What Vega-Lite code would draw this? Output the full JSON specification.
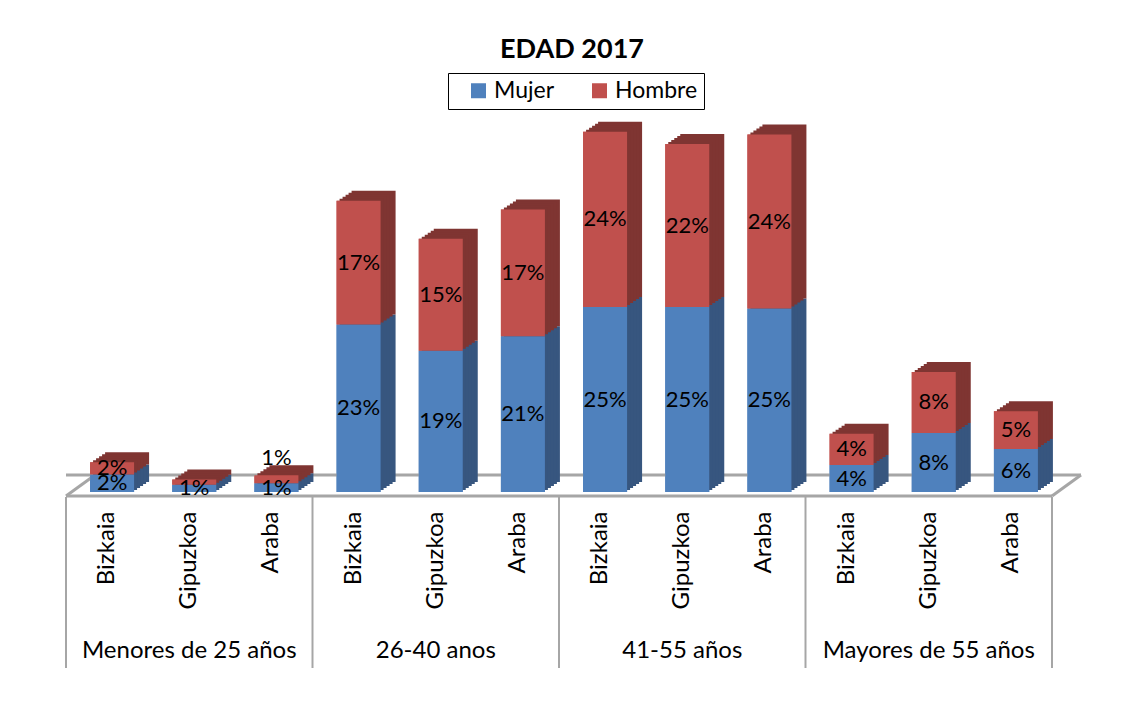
{
  "$schema": "https://vega.github.io/schema/vega-lite/v6.json",
  "width": 986,
  "height": 364,
  "autosize": {"type": "none"},
  "padding": {"left": 66, "top": 128, "right": 78, "bottom": 226},
  "background": "white",
  "config": {"font": "Lato", "view": {"stroke": null}},
  "title": {"text": "EDAD 2017", "fontSize": 27, "fontWeight": "bold", "font": "Lato", "color": "black", "anchor": "middle", "dx": 13, "offset": 9},
  "datasets": {
    "d": [
      {"grupo": "Menores de 25 años", "provincia": "Bizkaia", "categoria": "Menores de 25 años / Bizkaia", "sexo": "Mujer", "valor": 2.4, "etiqueta": "2%"},
      {"grupo": "Menores de 25 años", "provincia": "Bizkaia", "categoria": "Menores de 25 años / Bizkaia", "sexo": "Hombre", "valor": 1.7, "etiqueta": "2%"},
      {"grupo": "Menores de 25 años", "provincia": "Gipuzkoa", "categoria": "Menores de 25 años / Gipuzkoa", "sexo": "Mujer", "valor": 1.0, "etiqueta": "1%"},
      {"grupo": "Menores de 25 años", "provincia": "Gipuzkoa", "categoria": "Menores de 25 años / Gipuzkoa", "sexo": "Hombre", "valor": 0.7, "etiqueta": ""},
      {"grupo": "Menores de 25 años", "provincia": "Araba", "categoria": "Menores de 25 años / Araba", "sexo": "Mujer", "valor": 1.2, "etiqueta": "1%"},
      {"grupo": "Menores de 25 años", "provincia": "Araba", "categoria": "Menores de 25 años / Araba", "sexo": "Hombre", "valor": 1.1, "etiqueta": "1%"},
      {"grupo": "26-40 anos", "provincia": "Bizkaia", "categoria": "26-40 anos / Bizkaia", "sexo": "Mujer", "valor": 23.0, "etiqueta": "23%"},
      {"grupo": "26-40 anos", "provincia": "Bizkaia", "categoria": "26-40 anos / Bizkaia", "sexo": "Hombre", "valor": 17.0, "etiqueta": "17%"},
      {"grupo": "26-40 anos", "provincia": "Gipuzkoa", "categoria": "26-40 anos / Gipuzkoa", "sexo": "Mujer", "valor": 19.4, "etiqueta": "19%"},
      {"grupo": "26-40 anos", "provincia": "Gipuzkoa", "categoria": "26-40 anos / Gipuzkoa", "sexo": "Hombre", "valor": 15.4, "etiqueta": "15%"},
      {"grupo": "26-40 anos", "provincia": "Araba", "categoria": "26-40 anos / Araba", "sexo": "Mujer", "valor": 21.4, "etiqueta": "21%"},
      {"grupo": "26-40 anos", "provincia": "Araba", "categoria": "26-40 anos / Araba", "sexo": "Hombre", "valor": 17.4, "etiqueta": "17%"},
      {"grupo": "41-55 años", "provincia": "Bizkaia", "categoria": "41-55 años / Bizkaia", "sexo": "Mujer", "valor": 25.4, "etiqueta": "25%"},
      {"grupo": "41-55 años", "provincia": "Bizkaia", "categoria": "41-55 años / Bizkaia", "sexo": "Hombre", "valor": 24.1, "etiqueta": "24%"},
      {"grupo": "41-55 años", "provincia": "Gipuzkoa", "categoria": "41-55 años / Gipuzkoa", "sexo": "Mujer", "valor": 25.4, "etiqueta": "25%"},
      {"grupo": "41-55 años", "provincia": "Gipuzkoa", "categoria": "41-55 años / Gipuzkoa", "sexo": "Hombre", "valor": 22.4, "etiqueta": "22%"},
      {"grupo": "41-55 años", "provincia": "Araba", "categoria": "41-55 años / Araba", "sexo": "Mujer", "valor": 25.2, "etiqueta": "25%"},
      {"grupo": "41-55 años", "provincia": "Araba", "categoria": "41-55 años / Araba", "sexo": "Hombre", "valor": 23.9, "etiqueta": "24%"},
      {"grupo": "Mayores de 55 años", "provincia": "Bizkaia", "categoria": "Mayores de 55 años / Bizkaia", "sexo": "Mujer", "valor": 3.7, "etiqueta": "4%"},
      {"grupo": "Mayores de 55 años", "provincia": "Bizkaia", "categoria": "Mayores de 55 años / Bizkaia", "sexo": "Hombre", "valor": 4.3, "etiqueta": "4%"},
      {"grupo": "Mayores de 55 años", "provincia": "Gipuzkoa", "categoria": "Mayores de 55 años / Gipuzkoa", "sexo": "Mujer", "valor": 8.1, "etiqueta": "8%"},
      {"grupo": "Mayores de 55 años", "provincia": "Gipuzkoa", "categoria": "Mayores de 55 años / Gipuzkoa", "sexo": "Hombre", "valor": 8.4, "etiqueta": "8%"},
      {"grupo": "Mayores de 55 años", "provincia": "Araba", "categoria": "Mayores de 55 años / Araba", "sexo": "Mujer", "valor": 5.9, "etiqueta": "6%"},
      {"grupo": "Mayores de 55 años", "provincia": "Araba", "categoria": "Mayores de 55 años / Araba", "sexo": "Hombre", "valor": 5.2, "etiqueta": "5%"}
    ]
  },
  "data": {"name": "d"},
  "layer": [
    {
      "mark": {"type": "bar", "width": 44, "xOffset": 5},
      "encoding": {
        "x": {"field": "categoria", "type": "nominal", "scale": {"domain": ["Menores de 25 años / Bizkaia", "Menores de 25 años / Gipuzkoa", "Menores de 25 años / Araba", "26-40 anos / Bizkaia", "26-40 anos / Gipuzkoa", "26-40 anos / Araba", "41-55 años / Bizkaia", "41-55 años / Gipuzkoa", "41-55 años / Araba", "Mayores de 55 años / Bizkaia", "Mayores de 55 años / Gipuzkoa", "Mayores de 55 años / Araba"], "paddingInner": 0, "paddingOuter": 0},
          "axis": {"orient": "bottom", "title": null, "domain": false, "ticks": false, "grid": false, "labelAngle": -90, "labelAlign": "right", "labelBaseline": "middle", "labelPadding": 19, "labelFontSize": 24, "labelFont": "Lato", "labelColor": "black", "labelLimit": 300, "labelExpr": "split(datum.label, ' / ')[1]"}},
        "y": {"field": "valor", "type": "quantitative", "stack": "zero", "scale": {"domain": [0, 50]}, "axis": null},
        "color": {"field": "sexo", "type": "nominal", "scale": {"domain": ["Mujer", "Hombre"], "range": ["#4f81bd", "#c0504d"]},
          "legend": {"orient": "none", "legendX": 382, "legendY": -55, "direction": "horizontal", "title": null, "symbolType": "square", "symbolSize": 225, "symbolStrokeWidth": 0, "symbolOffset": 13, "labelFontSize": 23, "labelFont": "Lato", "labelColor": "black", "strokeColor": "black", "padding": 6, "columnPadding": 20, "labelOffset": 4}},
        "order": {"field": "sexo", "sort": "descending"}
      }
    },
    {
      "data": {"values": [{}]},
      "mark": {"type": "rule", "color": "#a6a6a6", "strokeWidth": 3, "xOffset": 29, "x2Offset": 29, "yOffset": -17},
      "encoding": {"y": {"datum": 0, "type": "quantitative"}}
    },
    {
      "data": {"values": [{}]},
      "mark": {"type": "rule", "color": "#a6a6a6", "strokeWidth": 3, "yOffset": 4},
      "encoding": {"y": {"datum": 0, "type": "quantitative"}}
    },
    {
      "data": {"values": [{}]},
      "mark": {"type": "rule", "color": "#a6a6a6", "strokeWidth": 3, "yOffset": 4, "y2Offset": -17, "x2Offset": 29},
      "encoding": {
        "x": {"datum": "Mayores de 55 años / Araba", "type": "nominal", "bandPosition": 1},
        "x2": {"datum": "Mayores de 55 años / Araba", "bandPosition": 1},
        "y": {"datum": 0, "type": "quantitative"},
        "y2": {"datum": 0}
      }
    },
    {
      "data": {"values": [{}]},
      "mark": {"type": "rule", "color": "#a6a6a6", "strokeWidth": 3, "yOffset": 4, "y2Offset": -17, "x2Offset": 29},
      "encoding": {
        "x": {"datum": "Menores de 25 años / Bizkaia", "type": "nominal", "bandPosition": 0},
        "x2": {"datum": "Menores de 25 años / Bizkaia", "bandPosition": 0},
        "y": {"datum": 0, "type": "quantitative"},
        "y2": {"datum": 0}
      }
    },
    {
      "transform": [{"filter": "datum.provincia === 'Bizkaia' && datum.sexo === 'Mujer'"}],
      "mark": {"type": "rule", "color": "#a6a6a6", "strokeWidth": 2, "yOffset": 5, "y2Offset": 176},
      "encoding": {
        "x": {"field": "categoria", "type": "nominal", "bandPosition": 0},
        "y": {"datum": 0, "type": "quantitative"},
        "y2": {"datum": 0}
      }
    },
    {
      "data": {"values": [{}]},
      "mark": {"type": "rule", "color": "#a6a6a6", "strokeWidth": 2, "yOffset": 5, "y2Offset": 176},
      "encoding": {
        "x": {"datum": "Mayores de 55 años / Araba", "type": "nominal", "bandPosition": 1},
        "y": {"datum": 0, "type": "quantitative"},
        "y2": {"datum": 0}
      }
    },
    {
      "mark": {"type": "bar", "width": 44, "xOffset": 20, "yOffset": -10, "y2Offset": -10},
      "encoding": {
        "x": {"field": "categoria", "type": "nominal"},
        "y": {"field": "valor", "type": "quantitative", "stack": "zero"},
        "fill": {"condition": {"test": "datum.sexo === 'Mujer'", "value": "#37567f"}, "value": "#7f3532"},
        "order": {"field": "sexo", "sort": "descending"},
        "detail": {"field": "sexo"}
      }
    },
    {
      "mark": {"type": "bar", "width": 44, "xOffset": 17, "yOffset": -8, "y2Offset": -8},
      "encoding": {
        "x": {"field": "categoria", "type": "nominal"},
        "y": {"field": "valor", "type": "quantitative", "stack": "zero"},
        "fill": {"condition": {"test": "datum.sexo === 'Mujer'", "value": "#37567f"}, "value": "#7f3532"},
        "order": {"field": "sexo", "sort": "descending"},
        "detail": {"field": "sexo"}
      }
    },
    {
      "mark": {"type": "bar", "width": 44, "xOffset": 14, "yOffset": -6, "y2Offset": -6},
      "encoding": {
        "x": {"field": "categoria", "type": "nominal"},
        "y": {"field": "valor", "type": "quantitative", "stack": "zero"},
        "fill": {"condition": {"test": "datum.sexo === 'Mujer'", "value": "#37567f"}, "value": "#7f3532"},
        "order": {"field": "sexo", "sort": "descending"},
        "detail": {"field": "sexo"}
      }
    },
    {
      "mark": {"type": "bar", "width": 44, "xOffset": 11, "yOffset": -4, "y2Offset": -4},
      "encoding": {
        "x": {"field": "categoria", "type": "nominal"},
        "y": {"field": "valor", "type": "quantitative", "stack": "zero"},
        "fill": {"condition": {"test": "datum.sexo === 'Mujer'", "value": "#37567f"}, "value": "#7f3532"},
        "order": {"field": "sexo", "sort": "descending"},
        "detail": {"field": "sexo"}
      }
    },
    {
      "mark": {"type": "bar", "width": 44, "xOffset": 8, "yOffset": -2, "y2Offset": -2},
      "encoding": {
        "x": {"field": "categoria", "type": "nominal"},
        "y": {"field": "valor", "type": "quantitative", "stack": "zero"},
        "fill": {"condition": {"test": "datum.sexo === 'Mujer'", "value": "#37567f"}, "value": "#7f3532"},
        "order": {"field": "sexo", "sort": "descending"},
        "detail": {"field": "sexo"}
      }
    },
    {
      "mark": {"type": "bar", "width": 44, "xOffset": 5},
      "encoding": {
        "x": {"field": "categoria", "type": "nominal"},
        "y": {"field": "valor", "type": "quantitative", "stack": "zero"},
        "color": {"field": "sexo", "type": "nominal"},
        "order": {"field": "sexo", "sort": "descending"}
      }
    },
    {
      "transform": [
        {"stack": "valor", "groupby": ["categoria"], "sort": [{"field": "sexo", "order": "descending"}], "as": ["v0", "v1"]},
        {"filter": "!(datum.sexo === 'Hombre' && datum.valor < 1.5)"},
        {"calculate": "(datum.v0 + datum.v1) / 2", "as": "centro"}
      ],
      "mark": {"type": "text", "fontSize": 22, "font": "Lato", "color": "black", "xOffset": 5},
      "encoding": {
        "x": {"field": "categoria", "type": "nominal"},
        "y": {"field": "centro", "type": "quantitative"},
        "text": {"field": "etiqueta"}
      }
    },
    {
      "transform": [
        {"stack": "valor", "groupby": ["categoria"], "sort": [{"field": "sexo", "order": "descending"}], "as": ["v0", "v1"]},
        {"filter": "datum.sexo === 'Hombre' && datum.valor < 1.5"}
      ],
      "mark": {"type": "text", "fontSize": 22, "font": "Lato", "color": "black", "xOffset": 5, "baseline": "bottom", "yOffset": -5},
      "encoding": {
        "x": {"field": "categoria", "type": "nominal"},
        "y": {"field": "v1", "type": "quantitative"},
        "text": {"field": "etiqueta"}
      }
    },
    {
      "transform": [{"filter": "datum.provincia === 'Gipuzkoa' && datum.sexo === 'Mujer'"}],
      "mark": {"type": "text", "fontSize": 24, "font": "Lato", "color": "black", "baseline": "middle", "align": "center", "yOffset": 159},
      "encoding": {
        "x": {"field": "categoria", "type": "nominal"},
        "y": {"datum": 0, "type": "quantitative"},
        "text": {"field": "grupo"}
      }
    }
  ]
}
